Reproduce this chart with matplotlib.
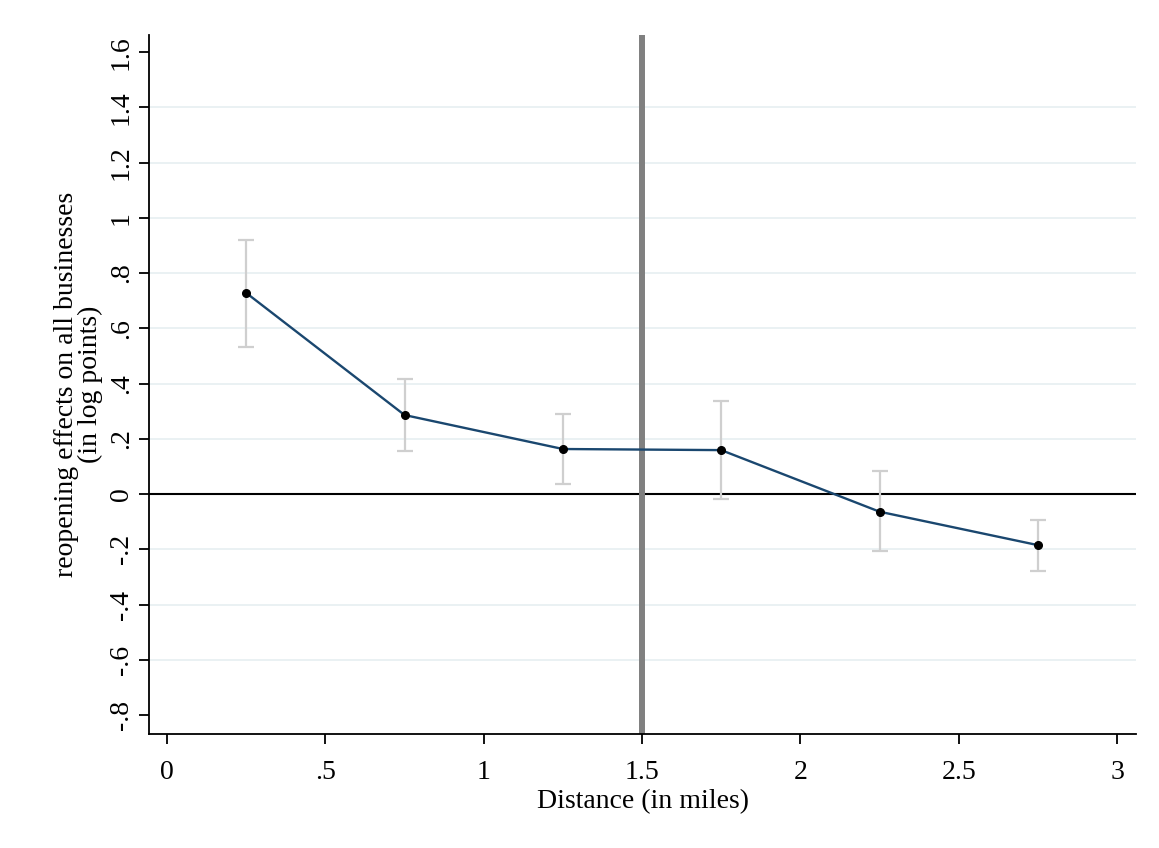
import matplotlib
matplotlib.use("Agg")
import matplotlib.pyplot as plt

# Distance bins (miles) and estimated reopening effects with 95% CIs
distance = [0.25, 0.75, 1.25, 1.75, 2.25, 2.75]
effect = [0.728, 0.286, 0.163, 0.159, -0.064, -0.185]
ci_low = [0.533, 0.157, 0.036, -0.019, -0.207, -0.279]
ci_high = [0.919, 0.416, 0.290, 0.337, 0.083, -0.094]

x_ticks = [0, 0.5, 1, 1.5, 2, 2.5, 3]
x_tick_labels = ["0", ".5", "1", "1.5", "2", "2.5", "3"]
y_ticks = [-0.8, -0.6, -0.4, -0.2, 0, 0.2, 0.4, 0.6, 0.8, 1, 1.2, 1.4, 1.6]
y_tick_labels = ["-.8", "-.6", "-.4", "-.2", "0", ".2", ".4", ".6", ".8",
                 "1", "1.2", "1.4", "1.6"]
cutoff = 1.5

plt.rcParams["font.family"] = ["Liberation Serif", "DejaVu Serif"]
FS = 20

fig = plt.figure(figsize=(11.59, 8.48), dpi=100)
ax = fig.add_axes([0.1286, 0.1344, 0.8516, 0.8243])

ax.set_xlim(-0.057, 3.060)
ax.set_ylim(-0.869, 1.662)

# light horizontal gridlines on interior ticks
for yv in y_ticks[1:-1]:
    ax.axhline(yv, color="#e6eff1", lw=1.2, zorder=0)

ax.axhline(0, color="black", lw=1.5, zorder=1)
ax.axvline(cutoff, color="#808080", lw=4.3, zorder=2)

lower_err = [e - lo for e, lo in zip(effect, ci_low)]
upper_err = [hi - e for e, hi in zip(effect, ci_high)]
ax.errorbar(distance, effect, yerr=[lower_err, upper_err], fmt="none",
            ecolor="#cfcfcf", elinewidth=1.6, capsize=5.5, capthick=1.6,
            zorder=3)
ax.plot(distance, effect, color="#1a476f", lw=1.7, zorder=4)
ax.plot(distance, effect, "o", color="black", ms=5.5, zorder=5)

ax.set_xticks(x_ticks)
ax.set_xticklabels(x_tick_labels, fontsize=FS)
ax.set_yticks(y_ticks)
ax.set_yticklabels(y_tick_labels, fontsize=FS, rotation=90, va="center")

for side in ["top", "right"]:
    ax.spines[side].set_visible(False)
for side in ["left", "bottom"]:
    ax.spines[side].set_linewidth(1.3)
ax.tick_params(axis="both", length=7, width=1.3, direction="out")
ax.tick_params(axis="x", pad=12)
ax.tick_params(axis="y", pad=4)

ax.set_xlabel("Distance (in miles)", fontsize=FS, labelpad=3)
ax.set_ylabel("reopening effects on all businesses\n(in log points)",
              fontsize=FS, linespacing=0.95, labelpad=4)

fig.savefig("out.png", dpi=100, facecolor="white")
